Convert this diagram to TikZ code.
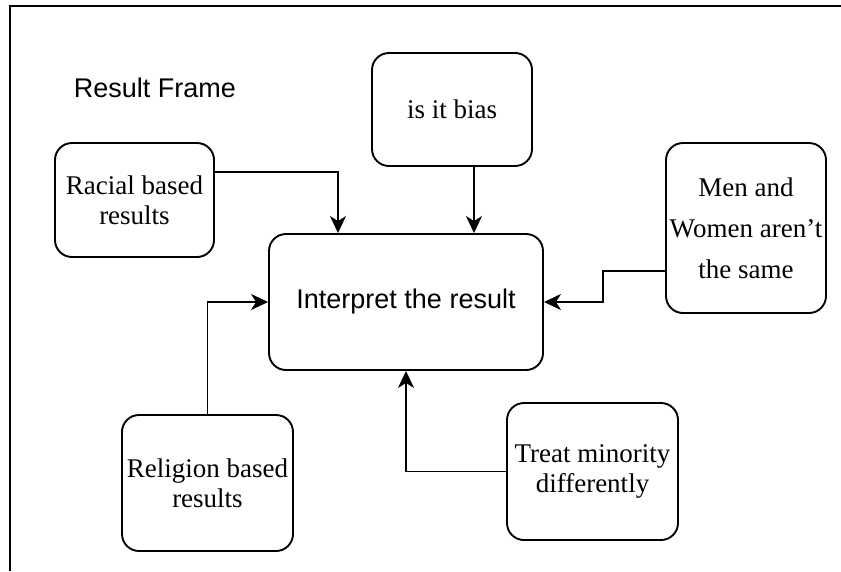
\documentclass[tikz,border=0pt]{standalone}
\usepackage{fontspec}
\setmainfont{Liberation Serif}
\setsansfont{Liberation Sans}
\usetikzlibrary{arrows.meta}
\begin{document}
\begin{tikzpicture}[x=1pt,y=-1pt,
  box/.style={draw, line width=1.9pt, rounded corners=17pt, align=center,
    inner sep=0pt, font=\fontsize{27}{30}\selectfont},
  arr/.style={line width=1.9pt, -{Stealth[length=17pt,width=16pt,inset=5pt]}},
  frameline/.style={line width=2pt}]
\useasboundingbox (0,0) rectangle (841,571);

% frame edges
\draw[frameline] (10,571) -- (10,6) -- (841,6);
\node[font=\sffamily\fontsize{27}{30}\selectfont] (title) at (155,88) {Result Frame};

% boxes
\node[box, minimum width=274pt, minimum height=136pt, font=\sffamily\fontsize{27}{30}\selectfont]
  (main) at (406,302) {Interpret the result};
\node[box, minimum width=159pt, minimum height=114pt] (racial) at (134.5,200) {Racial based\\results};
\node[box, minimum width=160pt, minimum height=113pt] (bias) at (452,109.5) {is it bias};
\node[box, minimum width=160pt, minimum height=170pt, font=\fontsize{27}{41}\selectfont]
  (men) at (746,228) {Men and\\Women aren’t\\the same};
\node[box, minimum width=171pt, minimum height=136pt] (religion) at (207.5,483) {Religion based\\results};
\node[box, minimum width=171pt, minimum height=137pt] (treat) at (592.5,471.5) {Treat minority\\differently};

% connectors
\draw[arr] ([yshift=28pt]racial.east) -| ([xshift=-68pt]main.north);
\draw[arr] ([xshift=22pt]bias.south) -- ([xshift=22pt]bias.south |- main.north);
\draw[arr] ([yshift=-43pt]men.west) -- ++(-62,0) |- (main.east);
\draw[arr] (religion.north) |- (main.west);
\draw[arr] (treat.west) -| (main.south);
\end{tikzpicture}
\end{document}
